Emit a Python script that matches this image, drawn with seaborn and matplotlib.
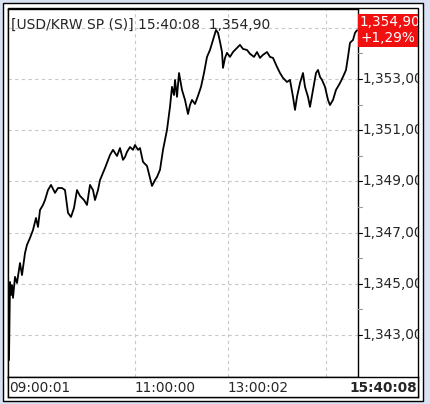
import matplotlib
matplotlib.use("Agg")
import matplotlib.pyplot as plt
import seaborn as sns
from matplotlib.patches import Rectangle

# tick index (x) and price (y)
tick_idx = [0, 1, 2, 3, 4, 6, 8, 11, 13, 16, 18, 21, 24, 27, 29, 31, 34, 36, 39, 42,
            46, 49, 53, 56, 59, 62, 65, 68, 71, 75, 78, 81, 84, 86, 89, 91, 96, 101, 104, 108,
            111, 114, 116, 118, 121, 124, 126, 129, 131, 134, 138, 141, 143, 146, 148, 151, 154, 156, 158, 161,
            163, 165, 166, 168, 170, 173, 176, 179, 181, 183, 186, 189, 192, 195, 198, 201, 204, 207, 209, 211,
            213, 214, 216, 218, 221, 224, 228, 231, 234, 238, 241, 245, 248, 251, 254, 258, 261, 264, 268, 271,
            274, 278, 281, 284, 286, 288, 291, 294, 296, 299, 301, 304, 307, 309, 311, 313, 316, 319, 321, 324,
            327, 331, 334, 337, 339, 341, 344, 346, 348]
price = [1342.02, 1345.07, 1344.56, 1344.95, 1344.45, 1345.27, 1345.03, 1345.81, 1345.34, 1346.20,
         1346.52, 1346.79, 1347.10, 1347.57, 1347.22, 1347.88, 1348.08, 1348.27, 1348.66, 1348.86,
         1348.55, 1348.74, 1348.74, 1348.66, 1347.77, 1347.61, 1347.96, 1348.66, 1348.43, 1348.27,
         1348.08, 1348.86, 1348.66, 1348.27, 1348.66, 1349.05, 1349.52, 1350.03, 1350.23, 1349.99,
         1350.30, 1349.84, 1349.95, 1350.15, 1350.34, 1350.23, 1350.42, 1350.23, 1350.30, 1349.76,
         1349.60, 1349.13, 1348.82, 1349.05, 1349.17, 1349.45, 1350.23, 1350.62, 1351.01, 1351.91,
         1352.69, 1352.37, 1352.96, 1352.30, 1353.23, 1352.57, 1352.18, 1351.63, 1351.98, 1352.18,
         1352.02, 1352.34, 1352.69, 1353.23, 1353.86, 1354.13, 1354.52, 1354.91, 1354.80, 1354.45,
         1354.05, 1353.43, 1353.82, 1354.02, 1353.86, 1354.05, 1354.21, 1354.33, 1354.17, 1354.13,
         1353.98, 1353.86, 1354.05, 1353.82, 1353.94, 1354.05, 1353.86, 1353.82, 1353.47, 1353.23,
         1353.04, 1352.88, 1352.96, 1352.30, 1351.79, 1352.30, 1352.84, 1353.23, 1352.69, 1352.30,
         1351.91, 1352.57, 1353.23, 1353.35, 1353.08, 1352.96, 1352.69, 1352.18, 1351.98, 1352.18,
         1352.57, 1352.84, 1353.08, 1353.35, 1353.86, 1354.41, 1354.52, 1354.80, 1354.90]

time_ticks = [0, 126, 219, 317]
time_labels = ["09:00:01", "11:00:00", "13:00:02", ""]
last_time = "15:40:08"
price_ticks = [1343, 1345, 1347, 1349, 1351, 1353, 1355]
minor_ticks = [1342, 1344, 1346, 1348, 1350, 1352, 1354]
title = "[USD/KRW SP (S)] 15:40:08  1,354,90"
last_price = "1,354,90"
change = "+1,29%"

W, H = 431, 404


def fx(x):
    return x / W


def fy(y):
    return 1 - y / H


sns.set_style("white")
plt.rcParams['font.family'] = ['DejaVu Sans']
fig = plt.figure(figsize=(W / 100, H / 100), dpi=100)
fig.patch.set_facecolor('#d8e2f3')

# outer panel and frame
fig.patches.append(Rectangle((fx(3), fy(401)), fx(420), 398 / H, transform=fig.transFigure,
                             facecolor='white', edgecolor='black', lw=1, zorder=-2))
fig.patches.append(Rectangle((fx(8), fy(397)), fx(410), 389 / H, transform=fig.transFigure,
                             facecolor='white', edgecolor='black', lw=1, zorder=-1))

# main chart area
ax = fig.add_axes([fx(8), fy(377), fx(350), 368 / H])
sns.lineplot(x=tick_idx, y=price, ax=ax, color='black', lw=1.3)
ax.set_xlim(-1, 349)
ax.set_ylim(1341.36, 1355.73)
for t in time_ticks[1:]:
    ax.axvline(t, color='#c8c8c8', lw=0.8, ls=(0, (3, 3)), zorder=0)
for p in price_ticks:
    ax.axhline(p, color='#c8c8c8', lw=0.8, ls=(0, (3, 3)), zorder=0)
ax.set_xticks([])
ax.set_yticks([])
for s in ax.spines.values():
    s.set_color('black')
    s.set_linewidth(1)
ax.text(0.01, 0.975, title, transform=ax.transAxes, ha='left', va='top', fontsize=10)

# price scale on the right
axp = fig.add_axes([fx(358), fy(377), fx(60), 368 / H], sharey=ax)
axp.patch.set_alpha(0)
axp.set_xlim(0, 1)
axp.set_xticks([])
axp.tick_params(axis='y', left=False, labelleft=False)
for s in axp.spines.values():
    s.set_visible(False)
for p in price_ticks[:-1]:
    axp.plot([0, 0.07], [p, p], color='black', lw=0.8)
    axp.text(0.08, p, f"{p:,}" + ",00", va='center', ha='left', fontsize=9.8, clip_on=True)
for p in minor_ticks[1:]:
    axp.plot([0, 0.07], [p, p], color='#999999', lw=0.8)
axp.add_patch(Rectangle((0, 1354.25), 1.0, 1.29, facecolor='#f01010', edgecolor='none', zorder=3))
axp.text(0.03, 1355.22, last_price, color='white', va='center', ha='left', fontsize=9.8,
         clip_on=True, zorder=4)
axp.text(0.5, 1354.58, change, color='white', va='center', ha='center', fontsize=9.8, zorder=4)

# time scale at the bottom
axt = fig.add_axes([fx(8), fy(397), fx(410), 20 / H])
axt.set_xlim(-1, 409)
axt.set_ylim(0, 1)
axt.set_xticks([])
axt.set_yticks([])
for s in axt.spines.values():
    s.set_color('black')
    s.set_linewidth(1)
for t, lab in zip(time_ticks, time_labels):
    axt.text(t, 0.45, lab, va='center', ha='left', fontsize=9.8)
axt.text(408, 0.45, last_time, va='center', ha='right', fontsize=9.8, fontweight='bold')

fig.savefig('out.png', dpi=100, facecolor=fig.get_facecolor())
